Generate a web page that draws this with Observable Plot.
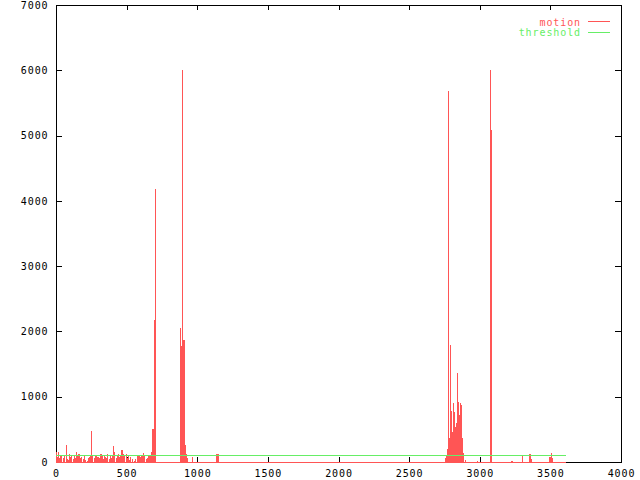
<!DOCTYPE html>
<html>
<head>
<meta charset="utf-8">
<script src="https://cdn.jsdelivr.net/npm/d3@7"></script>
<script src="https://cdn.jsdelivr.net/npm/@observablehq/plot@0.6"></script>
<style>
  html, body { margin: 0; padding: 0; background: #fff; }
</style>
</head>
<body>
<div id="chart"></div>
<script>
// ---- data ----
const xTicks = [0, 500, 1000, 1500, 2000, 2500, 3000, 3500, 4000];
const yTicks = [0, 1000, 2000, 3000, 4000, 5000, 6000, 7000];
const seriesNames = ["motion", "threshold"];
const threshold = 100;
const lastFrame = 3612;

const motionFrame = [
  0, 7, 14, 21, 28, 35, 42, 49, 56, 63, 70, 77, 84, 91, 98, 105, 112, 119, 126, 133,
  140, 147, 154, 161, 168, 175, 182, 189, 196, 203, 210, 217, 224, 231, 238, 245, 252, 259, 266, 273,
  280, 287, 294, 301, 308, 315, 322, 329, 336, 343, 350, 357, 364, 371, 378, 385, 392, 399, 406, 413,
  420, 427, 434, 441, 448, 455, 462, 469, 476, 483, 490, 497, 504, 511, 518, 525, 532, 539, 546, 553,
  560, 567, 574, 581, 588, 595, 602, 609, 616, 623, 630, 637, 644, 651, 658, 665, 672, 679, 686, 693, 701,
  876, 883, 890, 897, 904, 911, 918, 925, 961,
  1131, 1140, 1148,
  2755, 2762, 2769, 2776, 2783, 2790, 2797, 2804, 2811, 2818, 2826, 2833, 2840, 2847, 2854, 2861, 2868, 2875, 2882, 2896,
  2981, 3073, 3080,
  3219, 3226, 3296, 3352, 3359, 3488, 3495, 3506, 3511
];
const motionValue = [
  150, 80, 160, 60, 110, 100, 0, 60, 90, 0, 265, 50, 30, 120, 80, 90, 0, 40, 110, 60,
  150, 100, 120, 130, 60, 80, 0, 40, 90, 30, 0, 20, 60, 80, 100, 480, 100, 0, 60, 90,
  100, 30, 80, 0, 60, 120, 90, 40, 0, 110, 80, 60, 130, 0, 40, 90, 60, 100, 245, 150,
  0, 60, 100, 120, 80, 110, 185, 185, 120, 90, 0, 130, 60, 90, 30, 70, 0, 40, 0, 20,
  40, 0, 95, 90, 100, 80, 95, 90, 140, 100, 0, 40, 60, 100, 90, 110, 150, 500, 500, 2180, 4180,
  2050, 1780, 6000, 1870, 1870, 260, 130, 60, 80,
  120, 120, 120,
  60, 105, 200, 5690, 365, 1790, 785, 465, 905, 770, 540, 595, 1365, 920, 720, 900, 880, 365, 140, 30,
  15, 6000, 5080,
  20, 20, 105, 130, 45, 75, 75, 140, 60
];

// ---- styles ----
const red = "#ff5555";
const green = "#66ee66";
const W = 640, H = 480;
const mL = 56, mR = 19, mT = 5, mB = 18;
const plotW = W - mL - mR, plotH = H - mT - mB;
const fmt = d => String(d);

const chart = Plot.plot({
  width: W,
  height: H,
  marginLeft: mL,
  marginRight: mR,
  marginTop: mT,
  marginBottom: mB,
  x: { domain: [0, 4000] },
  y: { domain: [0, 7000] },
  style: { fontFamily: "DejaVu Sans Mono", fontSize: "10px", letterSpacing: "0.9px", color: "#000", background: "#fff" },
  marks: [
    Plot.frame({ stroke: "#000", strokeWidth: 1, shapeRendering: "crispEdges" }),
    // inward ticks (bottom/top, left/right mirrored)
    Plot.ruleX(xTicks, { x: d => d, insetTop: plotH - 5, stroke: "#000", shapeRendering: "crispEdges" }),
    Plot.ruleX(xTicks, { x: d => d, insetBottom: plotH - 5, stroke: "#000", shapeRendering: "crispEdges" }),
    Plot.ruleY(yTicks, { y: d => d, insetRight: plotW - 6, stroke: "#000", shapeRendering: "crispEdges" }),
    Plot.ruleY(yTicks, { y: d => d, insetLeft: plotW - 6, stroke: "#000", shapeRendering: "crispEdges" }),
    Plot.axisX({ ticks: xTicks, tickSize: 0, tickPadding: 7, tickFormat: fmt, label: null, fill: "#000" }),
    Plot.axisY({ ticks: yTicks, tickSize: 0, tickPadding: 8, tickFormat: fmt, label: null, fill: "#000" }),
    // motion (impulses + baseline)
    Plot.ruleX(motionFrame, {
      x: d => d,
      y1: 0,
      y2: (d, i) => motionValue[i],
      stroke: red,
      strokeWidth: 1.1,
      shapeRendering: "crispEdges"
    }),
    Plot.ruleY([0], { x1: 0, x2: lastFrame, stroke: red, shapeRendering: "crispEdges" }),
    // threshold
    Plot.ruleY([threshold], { x1: 0, x2: lastFrame, stroke: green, shapeRendering: "crispEdges" })
  ]
});

// legend inside plot (top-right)
const svg = d3.select(chart);
const legend = svg.append("g")
  .attr("font-family", "DejaVu Sans Mono")
  .attr("font-size", "10px")
  .style("letter-spacing", "0.9px");
[[seriesNames[0], red, 22], [seriesNames[1], green, 32.5]].forEach(([name, col, y]) => {
  legend.append("text").attr("x", 581).attr("y", y).attr("dy", "0.35em")
    .attr("text-anchor", "end").attr("fill", col).text(name);
  legend.append("rect").attr("x", 588).attr("y", Math.round(y) - 1).attr("width", 22).attr("height", 1)
    .attr("fill", col).attr("shape-rendering", "crispEdges");
});

document.getElementById("chart").appendChild(chart);
</script>
</body>
</html>
